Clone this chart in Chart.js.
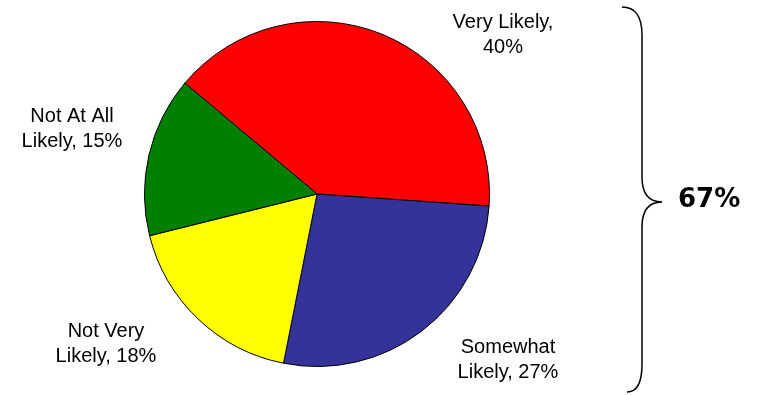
<!DOCTYPE html>
<html>
<head>
<meta charset="utf-8">
<script src="https://cdn.jsdelivr.net/npm/chart.js@4"></script>
<style>
  html, body { margin: 0; padding: 0; background: #fff; }
  #wrap { width: 759px; height: 395px; position: relative; }
</style>
</head>
<body>
<div id="wrap"><canvas id="pieChart" width="759" height="395"></canvas></div>
<script>
// data
const categories = ['Very Likely', 'Somewhat Likely', 'Not Very Likely', 'Not At All Likely'];
const shares = [40, 27, 18, 15];
const colors = ['#ff0000', '#333399', '#ffff00', '#008000'];
const bracketLabel = '67%';

// label lines and where to put them (center x, first line middle y)
const labelLines = [
  ['Very Likely,', '40%'],
  ['Somewhat', 'Likely, 27%'],
  ['Not Very', 'Likely, 18%'],
  ['Not At All', 'Likely, 15%']
];
const labelPos = [[503, 22], [508, 347], [106, 331], [72, 116]];

const labelsPlugin = {
  id: 'outsideLabels',
  afterDraw(chart) {
    const c = chart.ctx;
    c.save();
    c.fillStyle = '#000';
    c.font = '20px "Liberation Sans", Arial, sans-serif';
    c.textAlign = 'center';
    c.textBaseline = 'middle';
    labelLines.forEach((lines, i) => {
      const [x, y] = labelPos[i];
      lines.forEach((t, j) => c.fillText(t, x, y + j * 25));
    });

    // brace on the right
    c.strokeStyle = '#000';
    c.lineWidth = 1.5;
    const bx = 642, top = 7, bot = 392, mid = 202, tip = 662;
    c.beginPath();
    c.moveTo(622, top);
    c.quadraticCurveTo(bx, top, bx, top + 28);
    c.lineTo(bx, mid - 25);
    c.quadraticCurveTo(bx, mid, tip, mid);
    c.quadraticCurveTo(bx, mid, bx, mid + 25);
    c.lineTo(bx, bot - 28);
    c.quadraticCurveTo(bx, bot, 627, bot);
    c.stroke();

    c.font = 'bold 26px "DejaVu Sans", Verdana, sans-serif';
    c.textAlign = 'left';
    c.fillText(bracketLabel, 678, 200);
    c.restore();
  }
};

new Chart(document.getElementById('pieChart'), {
  type: 'pie',
  data: {
    labels: categories,
    datasets: [{
      data: shares,
      backgroundColor: colors,
      borderColor: '#000',
      borderWidth: 1
    }]
  },
  options: {
    responsive: false,
    animation: false,
    rotation: -50,
    layout: { padding: { left: 144, right: 269, top: 21, bottom: 28 } },
    plugins: {
      legend: { display: false },
      tooltip: { enabled: false }
    }
  },
  plugins: [labelsPlugin]
});
</script>
</body>
</html>
